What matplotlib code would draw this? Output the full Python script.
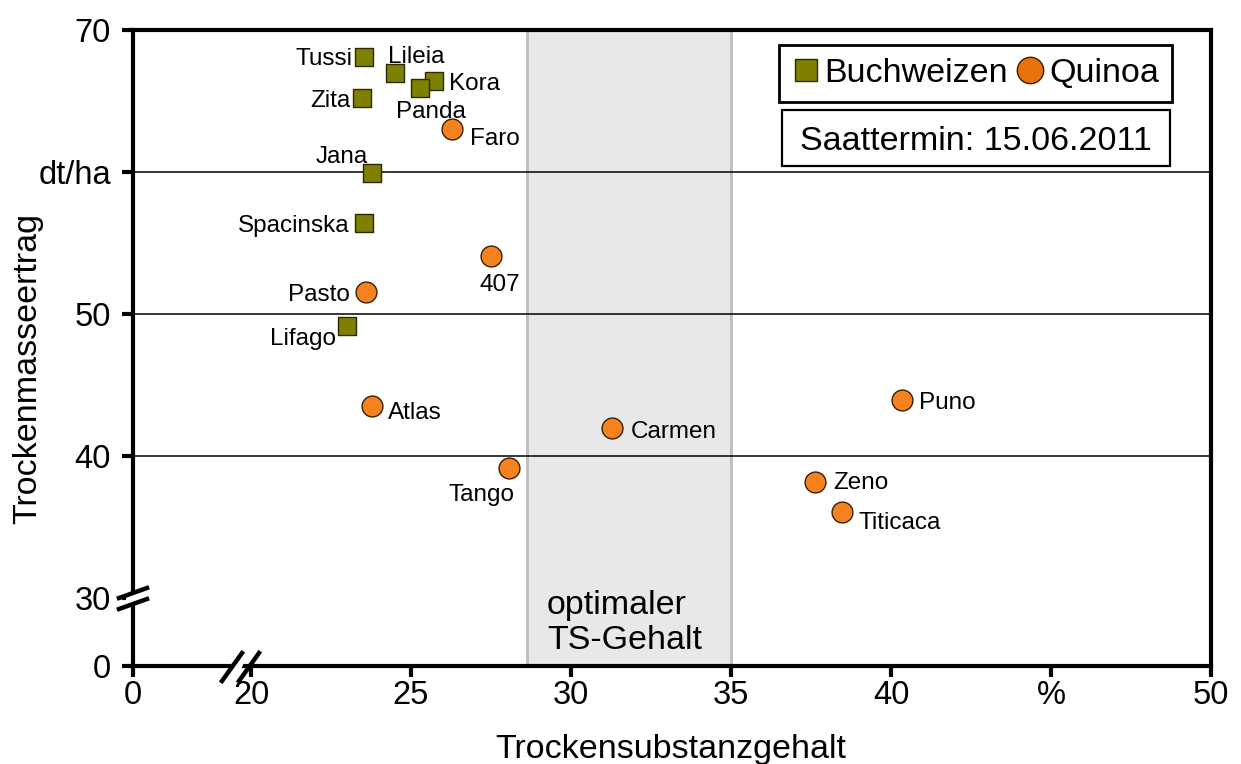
import matplotlib
matplotlib.use("Agg")
import matplotlib.pyplot as plt
from matplotlib.lines import Line2D
from matplotlib.patches import Rectangle

plt.rcParams['font.family'] = ['Liberation Sans', 'DejaVu Sans']

# Data
buch_names = ["Tussi", "Lileia", "Kora", "Panda", "Zita", "Jana", "Spacinska", "Lifago"]
buch_x = [23.53, 24.5, 25.72, 25.28, 23.47, 23.78, 23.53, 23.0]
buch_y = [68.1, 67.0, 66.4, 65.9, 65.2, 59.9, 56.4, 49.15]

quin_names = ["Faro", "407", "Pasto", "Atlas", "Tango", "Carmen", "Puno", "Zeno", "Titicaca"]
quin_x = [26.28, 27.5, 23.6, 23.78, 28.06, 31.28, 40.34, 37.63, 38.47]
quin_y = [63.0, 54.1, 51.55, 43.5, 39.15, 41.97, 43.94, 38.17, 36.06]

x_zero_pos = 16.31   # where "0" sits on the broken x axis
y_zero_pos = 25.2    # where "0" sits on the broken y axis
x_ticks = [x_zero_pos, 20, 25, 30, 35, 40, 45, 50]
x_ticklabels = ["0", "20", "25", "30", "35", "40", "%", "50"]
y_ticks = [y_zero_pos, 30, 40, 50, 60, 70]
y_ticklabels = ["0", "30", "40", "50", "dt/ha", "70"]
band = (28.62, 35.0)

# label offsets in pixels (dx, dy up) and horizontal alignment
buch_off = {"Tussi": (-12, 0, 'right'), "Lileia": (-7, 18, 'left'),
            "Kora": (15, 0, 'left'), "Panda": (-24, -21, 'left'),
            "Zita": (-12, 0, 'right'), "Jana": (-4, 19, 'right'),
            "Spacinska": (-14, 0, 'right'), "Lifago": (-11, -11, 'right')}
quin_off = {"Faro": (18, -7, 'left'), "407": (9, -27, 'center'),
            "Pasto": (-16, -1, 'right'), "Atlas": (16, -4, 'left'),
            "Tango": (-27, -25, 'center'), "Carmen": (19, -2, 'left'),
            "Puno": (17, -1, 'left'), "Zeno": (18, 1, 'left'),
            "Titicaca": (16, -9, 'left')}
PX = 0.72  # points per pixel at dpi 100

fig = plt.figure(figsize=(12.41, 7.64), dpi=100)
ax = fig.add_axes([133/1241, 1-666/764, (1211-133)/1241, (666-30)/764])
ax.set_xlim(x_zero_pos, 50)
ax.set_ylim(y_zero_pos, 70)

ax.axvspan(band[0], band[1], facecolor='#e8e8e8', edgecolor='none', zorder=0)
for bx in band:
    ax.axvline(bx, color='#bdbdbd', lw=2, zorder=0.5)
for gy in [40, 50, 60]:
    ax.axhline(gy, color='black', lw=1.1, zorder=1)

bcol = '#808000'
qcol = '#f5821f'
ax.scatter(buch_x, buch_y, marker='s', s=170, c=bcol, edgecolors='#2a2a00', linewidths=1.0, zorder=3)
ax.scatter(quin_x, quin_y, marker='o', s=225, c=qcol, edgecolors='#3a2000', linewidths=1.0, zorder=3)

LFS = 17.5
for names, xs, ys, offs in ((buch_names, buch_x, buch_y, buch_off),
                            (quin_names, quin_x, quin_y, quin_off)):
    for n, x, y in zip(names, xs, ys):
        dx, dy, ha = offs[n]
        ax.annotate(n, (x, y), xytext=(dx*PX, dy*PX), textcoords='offset points',
                    ha=ha, va='center_baseline', fontsize=LFS, zorder=4)

fig.text(547/1241, 1-623/764, "optimaler\nTS-Gehalt", ha='left', va='center', fontsize=24.5,
         linespacing=1.17)

for s in ax.spines.values():
    s.set_linewidth(3)
ax.set_xticks(x_ticks)
ax.set_xticklabels(x_ticklabels)
ax.set_yticks(y_ticks)
ax.set_yticklabels(y_ticklabels)
ax.tick_params(axis='both', direction='out', length=8, width=3, labelsize=23.5)
ax.tick_params(axis='x', pad=2)
ax.tick_params(axis='y', pad=8)

fig.text(671/1241, 1-758/764, "Trockensubstanzgehalt", ha='center', va='baseline', fontsize=24.5)
fig.text(12/1241, 1-368/764, "Trockenmasseertrag", ha='left', va='center', rotation=90, fontsize=24.5)

# break marks (x axis)
for off in (-8, 9):
    ax.plot([(240+off-10)/1241, (240+off+10)/1241], [1-681/764, 1-653/764],
            transform=fig.transFigure, color='black', lw=3.2, clip_on=False, zorder=6)
ax.add_patch(plt.Polygon([[236/1241, 1-660/764], [245/1241, 1-660/764],
                          [240/1241, 1-672/764], [231/1241, 1-672/764]],
                         closed=True, transform=fig.transFigure, facecolor='white', edgecolor='none',
                         zorder=5, clip_on=False))
# break marks (y axis)
for off in (-5, 6):
    ax.plot([119/1241, 147/1241], [1-(603+off)/764, 1-(593+off)/764],
            transform=fig.transFigure, color='black', lw=3.2, clip_on=False, zorder=6)
ax.add_patch(plt.Polygon([[126/1241, 1-596/764], [141/1241, 1-591/764],
                          [141/1241, 1-601/764], [126/1241, 1-606/764]],
                         closed=True, transform=fig.transFigure, facecolor='white', edgecolor='none',
                         zorder=5, clip_on=False))

handles = [Line2D([], [], marker='s', ls='none', ms=16.5, mfc=bcol, mec='#2a2a00', label='Buchweizen'),
           Line2D([], [], marker='o', ls='none', ms=19, mfc='#e8710a', mec='#3a2000', label='Quinoa')]
leg = ax.legend(handles=handles, ncol=2, loc='upper right', bbox_to_anchor=(1172/1241, 1-45/764),
                bbox_transform=fig.transFigure, fontsize=24.5, frameon=True, fancybox=False,
                handletextpad=0.15, columnspacing=0.25, borderpad=0.38, handlelength=0.8,
                borderaxespad=0, framealpha=1)
leg.get_frame().set_edgecolor('black')
leg.get_frame().set_linewidth(2)

# Saattermin box
fig.add_artist(Rectangle((782/1241, 1-166/764), (1170-782)/1241, (166-110)/764,
                         transform=fig.transFigure, facecolor='white', edgecolor='black',
                         linewidth=1.6, zorder=5))
fig.text(976/1241, 1-138/764, "Saattermin: 15.06.2011", ha='center', va='center_baseline',
         fontsize=24.5, zorder=6)

fig.savefig("out.png", dpi=100)
